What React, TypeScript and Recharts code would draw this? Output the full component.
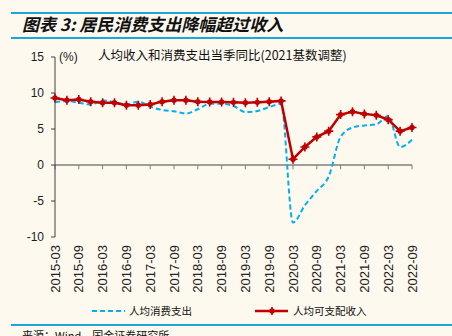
import React from 'react';
import { LineChart, Line, XAxis, YAxis, ReferenceLine } from 'recharts';

const quarters = [
  '2015-03', '2015-06', '2015-09', '2015-12',
  '2016-03', '2016-06', '2016-09', '2016-12',
  '2017-03', '2017-06', '2017-09', '2017-12',
  '2018-03', '2018-06', '2018-09', '2018-12',
  '2019-03', '2019-06', '2019-09', '2019-12',
  '2020-03', '2020-06', '2020-09', '2020-12',
  '2021-03', '2021-06', '2021-09', '2021-12',
  '2022-03', '2022-06', '2022-09',
];

// 人均消费支出 当季同比 (%)
const spending = [
  8.7, 8.9, 8.65, 8.4, 8.95, 8.75, 8.4, 8.8,
  8.1, 7.65, 7.45, 7.15, 7.75, 8.5, 8.5, 8.2,
  7.35, 7.5, 8.05, 8.5, -8.0, -5.6, -3.6, -1.6,
  3.9, 5.2, 5.5, 5.65, 6.8, 2.5, 3.5,
];

// 人均可支配收入 当季同比 (%)
const income = [
  9.3, 9.0, 9.1, 8.8, 8.65, 8.65, 8.3, 8.3,
  8.4, 8.8, 9.0, 9.0, 8.8, 8.75, 8.75, 8.7,
  8.65, 8.7, 8.8, 8.9, 0.8, 2.5, 3.9, 4.7,
  7.0, 7.4, 7.1, 6.9, 6.3, 4.7, 5.2,
];

const yTicks = [-10, -5, 0, 5, 10, 15];

const BLUE = '#00B0F0';
const RED = '#C00000';
const RULE = '#1AA7E0';
const LATIN = '"Liberation Sans", Arial, sans-serif';
const CJK = '"Noto Sans CJK SC", "Liberation Sans", sans-serif';

const data = quarters.map((q, i) => ({ q, spend: spending[i], income: income[i] }));

const XTick = (props: any) => {
  const { x, y, payload } = props;
  return (
    <text
      x={x}
      y={y}
      dy="0.35em"
      textAnchor="end"
      transform={`rotate(-90, ${x}, ${y})`}
      fontSize={13}
      fontFamily={LATIN}
      fill="#222"
    >
      {payload.value}
    </text>
  );
};

const IncomeDot = (props: any) => {
  const { cx, cy, index } = props;
  if (cx == null || cy == null) return null;
  return (
    <g key={`d${index}`}>
      <path
        d={`M${cx - 4.5},${cy} L${cx + 4.5},${cy} M${cx},${cy - 4.5} L${cx},${cy + 4.5}`}
        stroke={RED}
        strokeWidth={1.6}
      />
      <circle cx={cx} cy={cy} r={2.7} fill={RED} />
    </g>
  );
};

export default function App() {
  return (
    <div
      style={{
        position: 'absolute',
        left: 0,
        top: 0,
        width: 452,
        height: 336,
        overflow: 'hidden',
        background: '#FDF9EF',
        fontFamily: CJK,
      }}
    >
      <div style={{ position: 'absolute', left: 0, top: 0 }}>
        <LineChart
          width={452}
          height={336}
          data={data}
          margin={{ top: 57, right: 40, bottom: 39, left: 15 }}
        >
          <XAxis
            dataKey="q"
            interval={1}
            axisLine={false}
            tickLine={false}
            height={60}
            tick={<XTick />}
          />
          <YAxis
            domain={[-10, 15]}
            ticks={yTicks}
            interval={0}
            width={40}
            tickSize={4}
            tickMargin={7}
            axisLine={{ stroke: '#404040' }}
            tickLine={{ stroke: '#404040' }}
            tick={{ fontSize: 12, fill: '#222', fontFamily: LATIN }}
          />
          <ReferenceLine y={0} stroke="#7f7f7f" strokeWidth={1.5} />
          {quarters
            .filter((_, i) => i % 2 === 0)
            .map((q) => (
              <ReferenceLine
                key={q}
                segment={[{ x: q, y: 0 }, { x: q, y: -0.6 }]}
                stroke="#7f7f7f"
                strokeWidth={1}
              />
            ))}
          <Line
            type="monotone"
            dataKey="spend"
            stroke={BLUE}
            strokeWidth={2}
            strokeDasharray="5 3"
            dot={false}
            isAnimationActive={false}
          />
          <Line
            type="linear"
            dataKey="income"
            stroke={RED}
            strokeWidth={2.5}
            dot={<IncomeDot />}
            isAnimationActive={false}
          />
        </LineChart>
      </div>

      <div style={{ position: 'absolute', left: 11, right: 0, top: 12, height: 2, background: RULE }} />
      <div
        style={{
          position: 'absolute',
          left: 22,
          top: 13,
          fontSize: 17,
          lineHeight: '21px',
          fontWeight: 'bold',
          fontStyle: 'italic',
          color: '#111',
          whiteSpace: 'nowrap',
        }}
      >
        图表 3: 居民消费支出降幅超过收入
      </div>
      <div style={{ position: 'absolute', left: 11, right: 0, top: 37, height: 2, background: RULE }} />

      <div
        style={{
          position: 'absolute',
          left: 59,
          top: 50,
          fontSize: 12,
          lineHeight: '15px',
          fontFamily: LATIN,
          color: '#222',
        }}
      >
        (%)
      </div>
      <div
        style={{
          position: 'absolute',
          left: 98,
          top: 47,
          fontSize: 12.5,
          lineHeight: '16px',
          color: '#111',
          whiteSpace: 'nowrap',
        }}
      >
        人均收入和消费支出当季同比(2021基数调整)
      </div>

      <div style={{ position: 'absolute', left: 92, top: 303, display: 'flex', alignItems: 'center' }}>
        <svg width={34} height={16}>
          <line x1={0} y1={8} x2={33} y2={8} stroke={BLUE} strokeWidth={2} strokeDasharray="5 3" />
        </svg>
        <span style={{ fontSize: 10.5, lineHeight: '16px', marginLeft: 3, color: '#111' }}>人均消费支出</span>
      </div>
      <div style={{ position: 'absolute', left: 255, top: 303, display: 'flex', alignItems: 'center' }}>
        <svg width={34} height={16}>
          <line x1={0} y1={8} x2={33} y2={8} stroke={RED} strokeWidth={2.5} />
          <path d="M13,8 L21,8 M17,4 L17,12" stroke={RED} strokeWidth={1.6} />
          <circle cx={17} cy={8} r={2.7} fill={RED} />
        </svg>
        <span style={{ fontSize: 10.5, lineHeight: '16px', marginLeft: 4, color: '#111' }}>人均可支配收入</span>
      </div>

      <div style={{ position: 'absolute', left: 11, right: 0, top: 324, height: 2, background: RULE }} />
      <div
        style={{
          position: 'absolute',
          left: 22,
          top: 328,
          fontSize: 11,
          lineHeight: '14px',
          color: '#111',
          whiteSpace: 'nowrap',
        }}
      >
        来源：Wind，国金证券研究所
      </div>
    </div>
  );
}
